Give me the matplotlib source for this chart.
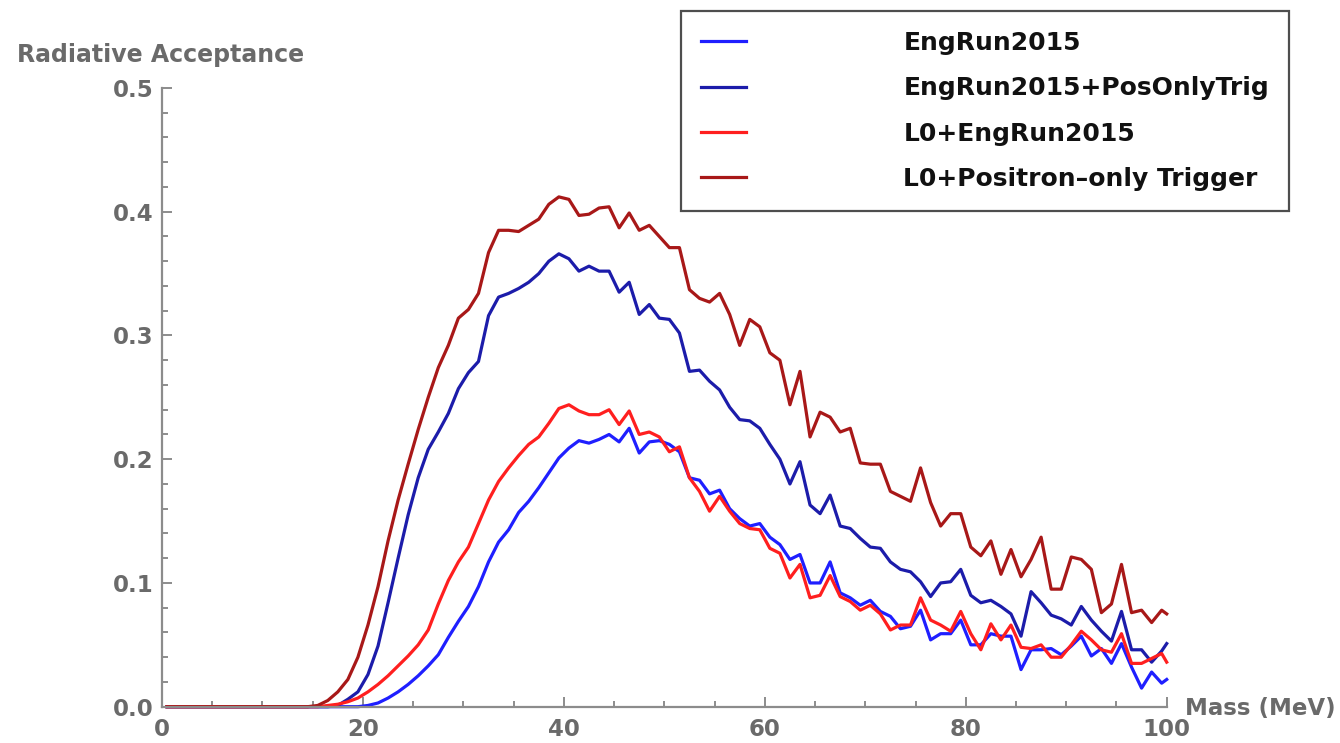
import numpy as np
import matplotlib
matplotlib.use('Agg')
import matplotlib.pyplot as plt
from matplotlib.ticker import MultipleLocator, FormatStrFormatter

# masses sampled at bin centres, plus the end point at 100 MeV
mass = list(np.arange(0.5, 100, 1.0)) + [100.0]

eng_run = [0.0] * 20 + [
    0.001, 0.003, 0.007, 0.012, 0.018, 0.025, 0.033, 0.042, 0.056, 0.069,
    0.081, 0.097, 0.117, 0.133, 0.143, 0.157, 0.166, 0.177, 0.189, 0.201,
    0.209, 0.215, 0.213, 0.216, 0.220, 0.214, 0.225, 0.205, 0.214, 0.215,
    0.212, 0.206, 0.185, 0.183, 0.172, 0.175, 0.160, 0.152, 0.146, 0.148,
    0.137, 0.131, 0.119, 0.123, 0.100, 0.100, 0.117, 0.092, 0.088, 0.082,
    0.086, 0.077, 0.073, 0.063, 0.065, 0.078, 0.054, 0.059, 0.059, 0.070,
    0.050, 0.050, 0.059, 0.057, 0.057, 0.030, 0.046, 0.046, 0.047, 0.042,
    0.049, 0.057, 0.041, 0.047, 0.035, 0.051, 0.032, 0.015, 0.028, 0.019,
    0.022,
]

eng_run_pos = [0.0] * 17 + [
    0.001, 0.006, 0.012,
    0.026, 0.049, 0.084, 0.120, 0.155, 0.185, 0.208, 0.222, 0.237, 0.257,
    0.270, 0.279, 0.316, 0.331, 0.334, 0.338, 0.343, 0.350, 0.360, 0.366,
    0.362, 0.352, 0.356, 0.352, 0.352, 0.335, 0.343, 0.317, 0.325, 0.314,
    0.313, 0.302, 0.271, 0.272, 0.263, 0.256, 0.242, 0.232, 0.231, 0.225,
    0.212, 0.200, 0.180, 0.198, 0.163, 0.156, 0.171, 0.146, 0.144, 0.136,
    0.129, 0.128, 0.117, 0.111, 0.109, 0.101, 0.089, 0.100, 0.101, 0.111,
    0.090, 0.084, 0.086, 0.081, 0.075, 0.057, 0.093, 0.084, 0.074, 0.071,
    0.066, 0.081, 0.070, 0.061, 0.053, 0.077, 0.046, 0.046, 0.036, 0.045,
    0.051,
]

l0_eng_run = [0.0] * 16 + [
    0.001, 0.002, 0.004, 0.007,
    0.012, 0.018, 0.025, 0.033, 0.041, 0.050, 0.062, 0.083, 0.102, 0.117,
    0.129, 0.148, 0.167, 0.182, 0.193, 0.203, 0.212, 0.218, 0.229, 0.241,
    0.244, 0.239, 0.236, 0.236, 0.240, 0.228, 0.239, 0.220, 0.222, 0.218,
    0.206, 0.210, 0.185, 0.174, 0.158, 0.170, 0.158, 0.148, 0.144, 0.143,
    0.128, 0.124, 0.104, 0.115, 0.088, 0.090, 0.106, 0.089, 0.085, 0.078,
    0.082, 0.075, 0.062, 0.066, 0.066, 0.088, 0.070, 0.066, 0.061, 0.077,
    0.059, 0.046, 0.067, 0.054, 0.066, 0.048, 0.047, 0.050, 0.040, 0.040,
    0.050, 0.061, 0.054, 0.046, 0.044, 0.059, 0.035, 0.035, 0.039, 0.043,
    0.036,
]

l0_pos_only = [0.0] * 15 + [
    0.001, 0.005, 0.012, 0.022, 0.040,
    0.066, 0.097, 0.134, 0.167, 0.196, 0.224, 0.250, 0.274, 0.292, 0.314,
    0.321, 0.334, 0.367, 0.385, 0.385, 0.384, 0.389, 0.394, 0.406, 0.412,
    0.410, 0.397, 0.398, 0.403, 0.404, 0.387, 0.399, 0.385, 0.389, 0.380,
    0.371, 0.371, 0.337, 0.330, 0.327, 0.334, 0.317, 0.292, 0.313, 0.307,
    0.286, 0.280, 0.244, 0.271, 0.218, 0.238, 0.234, 0.222, 0.225, 0.197,
    0.196, 0.196, 0.174, 0.170, 0.166, 0.193, 0.165, 0.146, 0.156, 0.156,
    0.129, 0.122, 0.134, 0.107, 0.127, 0.105, 0.119, 0.137, 0.095, 0.095,
    0.121, 0.119, 0.111, 0.076, 0.083, 0.115, 0.076, 0.078, 0.068, 0.078,
    0.075,
]

series = [
    ('EngRun2015', eng_run, '#1f1fff'),
    ('EngRun2015+PosOnlyTrig', eng_run_pos, '#1c1caa'),
    ('L0+EngRun2015', l0_eng_run, '#ff1f1f'),
    ('L0+Positron\u2013only Trigger', l0_pos_only, '#a81818'),
]

AXIS_GRAY = '#8c8c8c'
TEXT_GRAY = '#6a6a6a'
FONT = ['DejaVu Sans']


def main():

    plt.rcParams['font.family'] = FONT
    plt.rcParams['font.weight'] = 'bold'

    fig = plt.figure(figsize = (13.4, 7.43), dpi = 100)
    ax = fig.add_axes([162 / 1340, 1 - 706.7 / 743, (1166.7 - 162) / 1340, (706.7 - 88) / 743])

    for name, values, color in series:
        ax.plot(mass, values, color = color, linewidth = 2.3, label = name,
                solid_joinstyle = 'round', clip_on = False)

    for side in ('top', 'right'):
        ax.spines[side].set_visible(False)
    for side in ('left', 'bottom'):
        ax.spines[side].set_color(AXIS_GRAY)
        ax.spines[side].set_linewidth(1.6)

    ax.xaxis.set_major_locator(MultipleLocator(20))
    ax.xaxis.set_minor_locator(MultipleLocator(5))
    ax.yaxis.set_major_locator(MultipleLocator(0.1))
    ax.yaxis.set_minor_locator(MultipleLocator(0.02))
    ax.yaxis.set_major_formatter(FormatStrFormatter('%.1f'))

    ax.set_xlim(0, 100)
    ax.set_ylim(0, 0.5)

    ax.tick_params(which = 'both', direction = 'in', color = AXIS_GRAY, width = 1.4,
                   labelcolor = TEXT_GRAY, labelsize = 16.5)
    ax.tick_params(which = 'major', length = 7)
    ax.tick_params(axis = 'x', which = 'major', pad = 8)
    ax.tick_params(axis = 'y', which = 'major', pad = 6)
    ax.tick_params(which = 'minor', length = 4)

    fig.text(17 / 1340, 1 - 55 / 743, 'Radiative Acceptance', color = TEXT_GRAY,
             fontsize = 17, fontweight = 'bold', ha = 'left', va = 'center')
    fig.text(1185 / 1340, 1 - 708 / 743, 'Mass (MeV)', color = TEXT_GRAY,
             fontsize = 16.5, fontweight = 'bold', ha = 'left', va = 'center')

    leg = ax.legend(loc = 'upper left', bbox_to_anchor = (681 / 1340, 1 - 11 / 743),
                    bbox_transform = fig.transFigure, fontsize = 18, frameon = True,
                    fancybox = False, edgecolor = '#222222', borderaxespad = 0,
                    borderpad = 0.8, handlelength = 1.8, handletextpad = 6.3,
                    labelspacing = 0.85)
    leg.get_frame().set_linewidth(1.6)
    for text in leg.get_texts():
        text.set_fontweight('bold')
        text.set_color('#111111')

    fig.savefig('out.png', dpi = 100)


if __name__ == '__main__':
    main()
